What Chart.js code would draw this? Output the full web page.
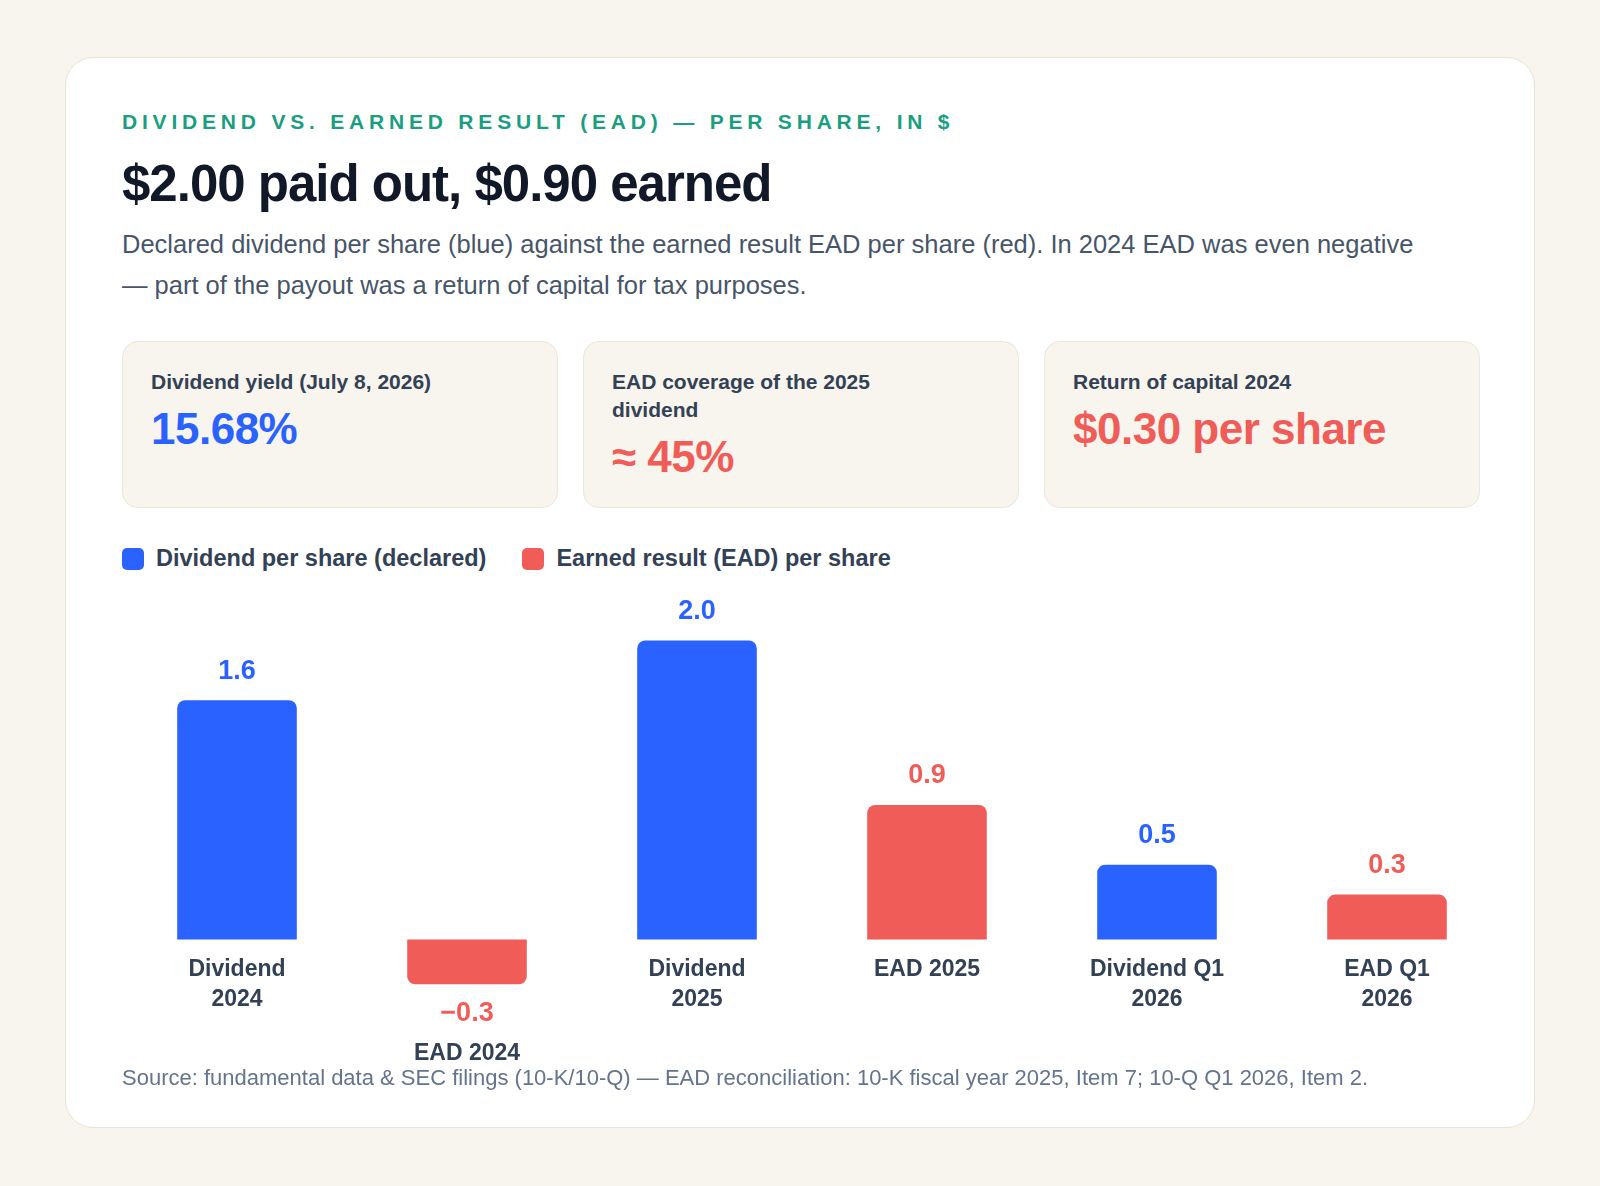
<!DOCTYPE html>
<html><head><meta charset="utf-8">
<script src="https://cdn.jsdelivr.net/npm/chart.js@4"></script>
<style>
body{margin:0;background:#f8f4ee;font-family:"Liberation Sans",Arial,sans-serif;width:1600px;height:1186px;overflow:hidden}
.card{position:absolute;left:65px;top:57px;width:1470px;height:1071px;background:#fff;border:1px solid #e8e2d8;border-radius:28px;box-sizing:border-box}
.abs{position:absolute;left:56px}
.eyebrow{top:52px;font-size:21px;font-weight:bold;letter-spacing:4.8px;color:#1a9e7f}
.title{top:96px;font-size:51px;font-weight:bold;letter-spacing:-1px;color:#111827}
.desc{top:166px;width:1320px;font-size:25.5px;line-height:41px;color:#475569}
.kpi{position:absolute;top:283px;width:436px;height:167px;background:#f8f4ee;border:1px solid #ece6dc;border-radius:16px;box-sizing:border-box;padding:26px 28px}
.kpi .l{font-size:21px;font-weight:bold;color:#334155;line-height:28px;width:300px}
.kpi .v{font-size:44px;font-weight:bold;margin-top:8px;letter-spacing:-0.5px}
.legend{top:487px;font-size:23.5px;font-weight:bold;color:#334155;display:flex;gap:36px}
.legend span{display:flex;align-items:center}
.legend i{display:inline-block;width:22px;height:22px;border-radius:5px;margin-right:12px}
.src{top:1007px;font-size:22px;color:#64748b}
#wrap{position:absolute;left:56px;top:533px;width:1380px;height:490px}
</style></head><body>
<div class="card">
<div class="abs eyebrow">DIVIDEND VS. EARNED RESULT (EAD) — PER SHARE, IN $</div>
<div class="abs title">$2.00 paid out, $0.90 earned</div>
<div class="abs desc">Declared dividend per share (blue) against the earned result EAD per share (red). In 2024 EAD was even negative — part of the payout was a return of capital for tax purposes.</div>
<div class="kpi" style="left:56px"><div class="l" style="width:auto">Dividend yield (July 8, 2026)</div><div class="v" style="color:#2962ff">15.68%</div></div>
<div class="kpi" style="left:517px"><div class="l">EAD coverage of the 2025 dividend</div><div class="v" style="color:#f05d58">≈ 45%</div></div>
<div class="kpi" style="left:978px"><div class="l">Return of capital 2024</div><div class="v" style="color:#f05d58">$0.30 per share</div></div>
<div class="abs legend"><span><i style="background:#2962ff"></i>Dividend per share (declared)</span><span><i style="background:#f05d58"></i>Earned result (EAD) per share</span></div>
<div id="wrap"><canvas id="c"></canvas></div>
<div class="abs src">Source: fundamental data &amp; SEC filings (10-K/10-Q) — EAD reconciliation: 10-K fiscal year 2025, Item 7; 10-Q Q1 2026, Item 2.</div>
</div>
<script>
const categories = [["Dividend","2024"],["EAD 2024"],["Dividend","2025"],["EAD 2025"],["Dividend Q1","2026"],["EAD Q1","2026"]];
const values = [1.6, -0.3, 2.0, 0.9, 0.5, 0.3];
const valueLabels = ["1.6", "\u22120.3", "2.0", "0.9", "0.5", "0.3"];
const barColors = ["#2962ff", "#f05d58", "#2962ff", "#f05d58", "#2962ff", "#f05d58"];

const labelPlugin = {
  id: 'labels',
  afterDatasetsDraw(chart) {
    const ctx = chart.ctx;
    const meta = chart.getDatasetMeta(0);
    const zero = chart.scales.y.getPixelForValue(0);
    ctx.save();
    ctx.textAlign = 'center';
    ctx.textBaseline = 'middle';
    meta.data.forEach((bar, i) => {
      ctx.font = 'bold 27px "Liberation Sans", Arial, sans-serif';
      ctx.fillStyle = barColors[i];
      let catY;
      if (values[i] >= 0) {
        ctx.fillText(valueLabels[i], bar.x, bar.y - 29);
        catY = zero + 30;
      } else {
        ctx.fillText(valueLabels[i], bar.x, bar.y + 29);
        catY = bar.y + 69;
      }
      ctx.font = 'bold 23px "Liberation Sans", Arial, sans-serif';
      ctx.fillStyle = '#334155';
      categories[i].forEach((line, j) => ctx.fillText(line, bar.x, catY + j * 30));
    });
    ctx.restore();
  }
};

new Chart(document.getElementById('c'), {
  type: 'bar',
  data: {
    labels: categories.map(c => c.join(' ')),
    datasets: [{
      data: values,
      backgroundColor: barColors,
      borderRadius: 8,
      borderSkipped: 'start',
      barPercentage: 0.52,
      categoryPercentage: 1
    }]
  },
  options: {
    responsive: true,
    maintainAspectRatio: false,
    animation: false,
    layout: { padding: 0 },
    scales: {
      x: { display: false },
      y: { display: false, min: -0.947, max: 2.331 }
    },
    plugins: { legend: { display: false }, tooltip: { enabled: false } }
  },
  plugins: [labelPlugin]
});
</script>
</body></html>
